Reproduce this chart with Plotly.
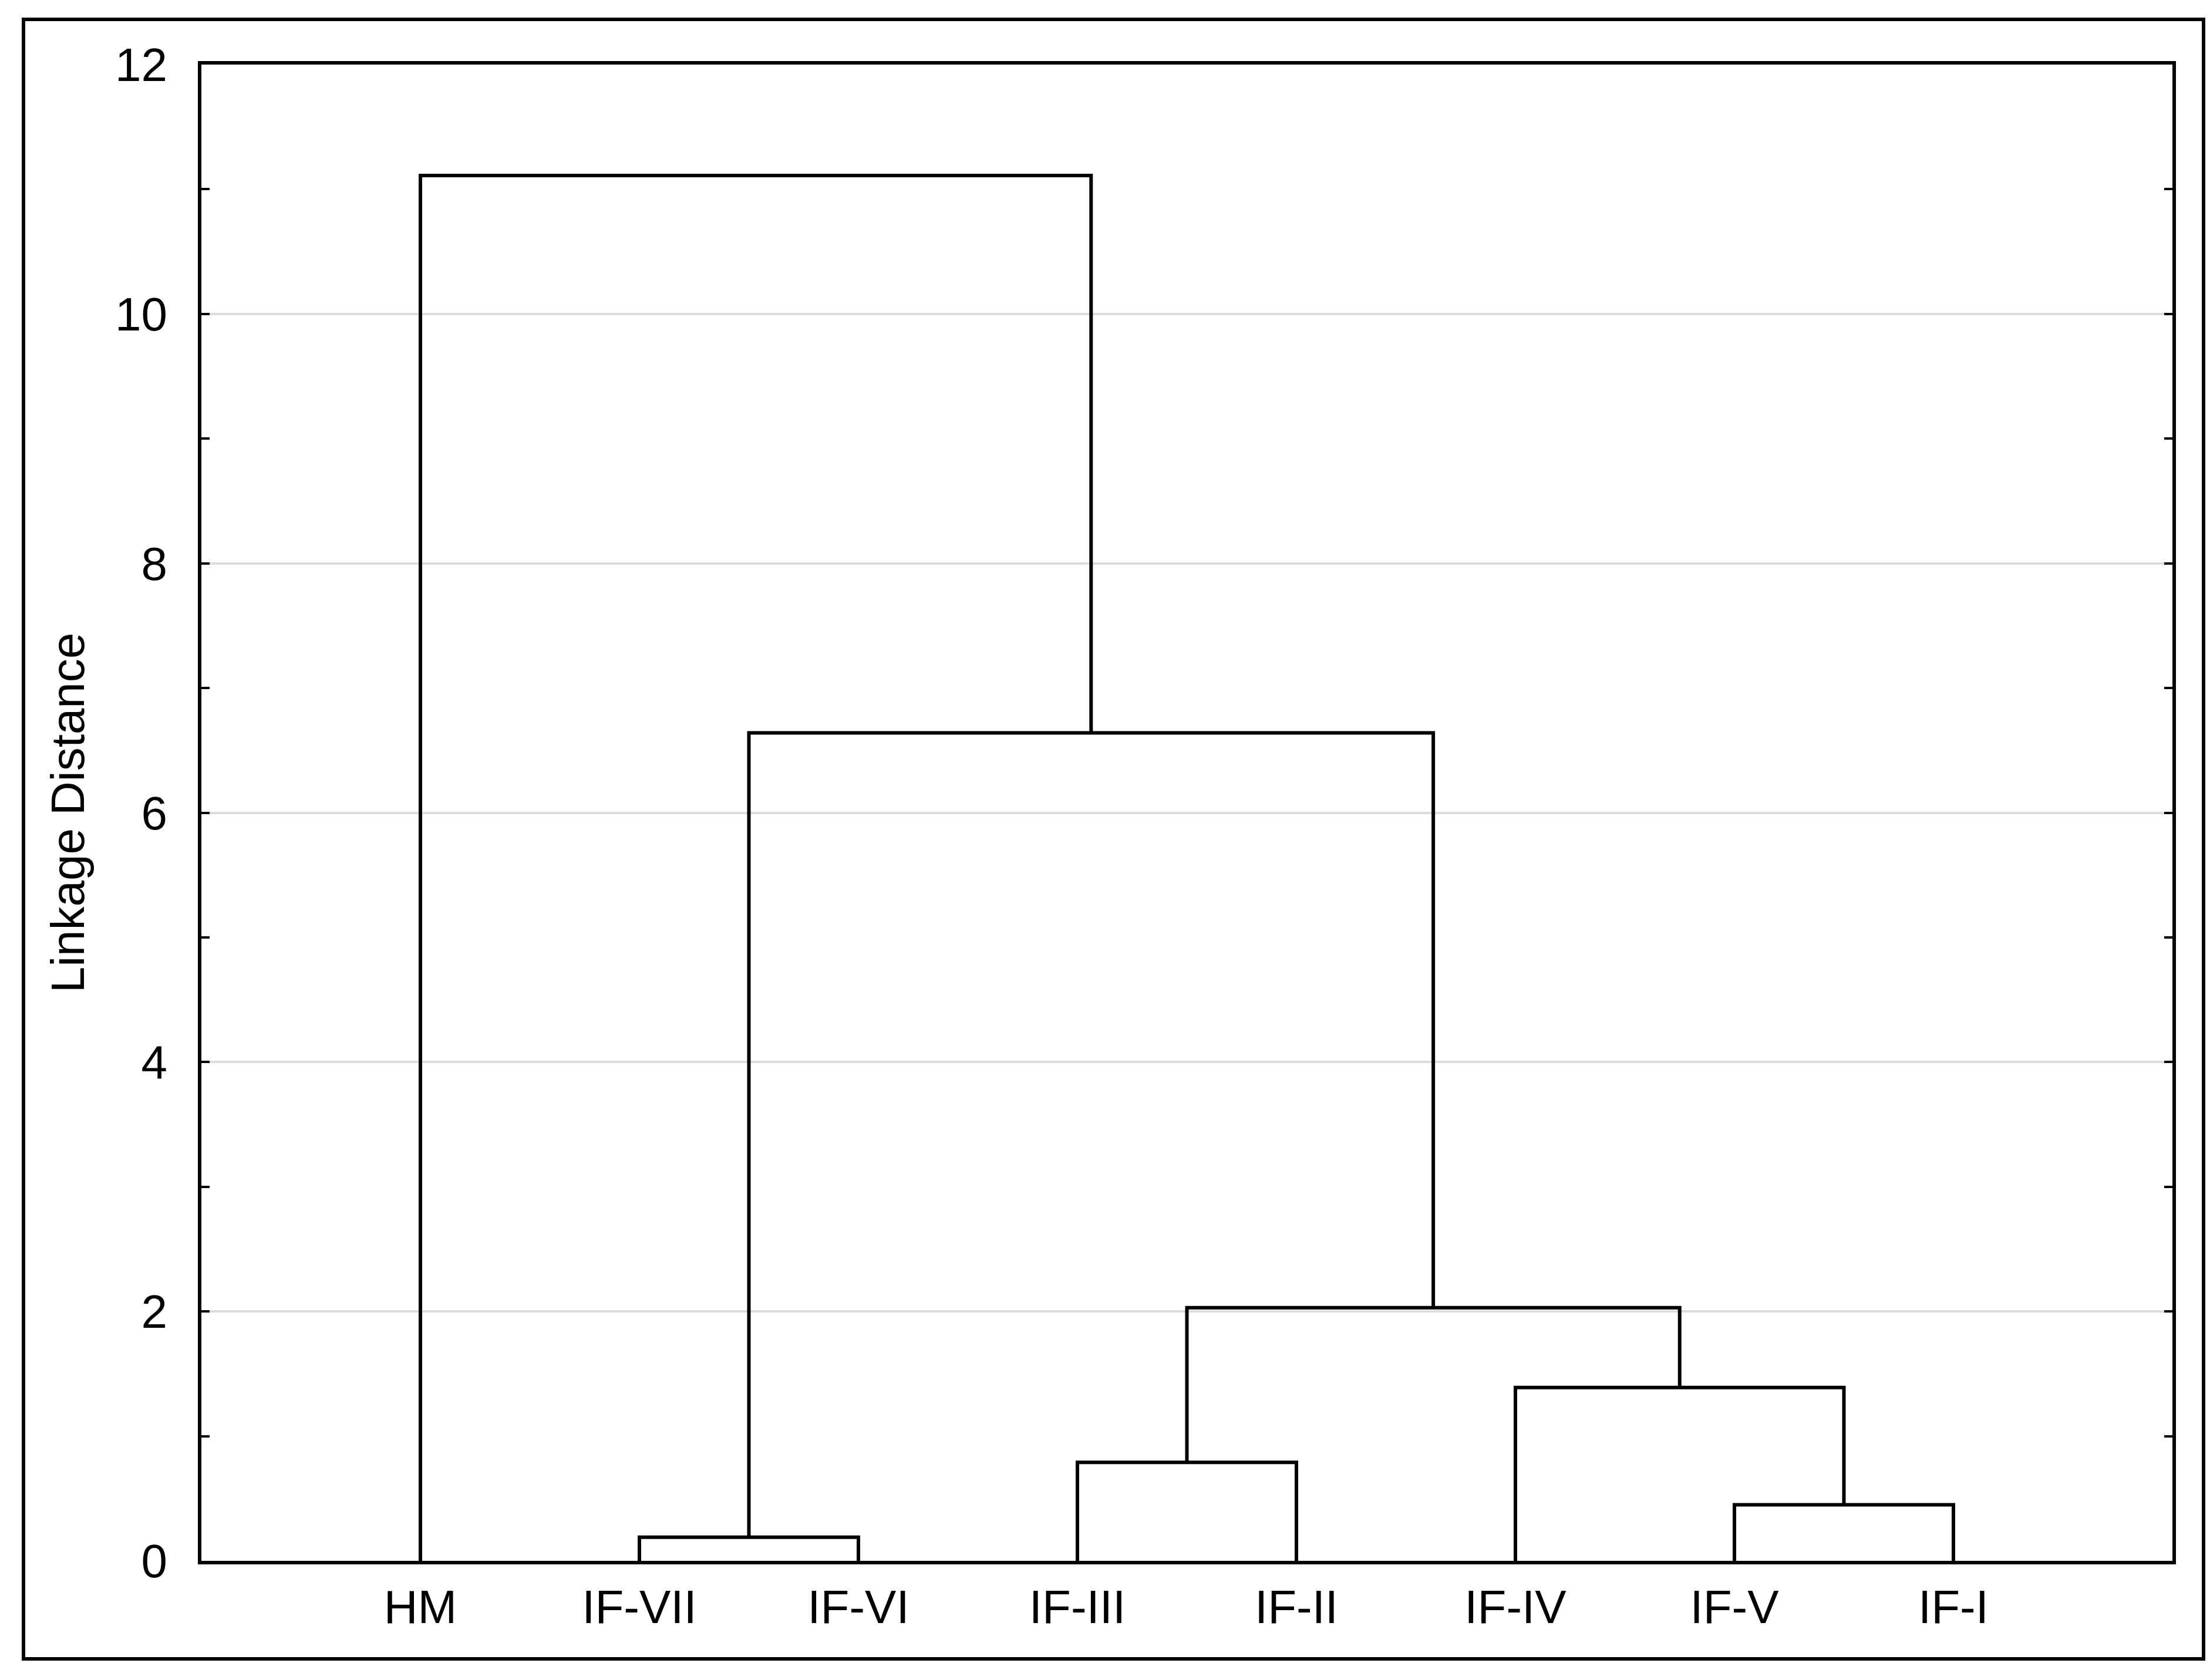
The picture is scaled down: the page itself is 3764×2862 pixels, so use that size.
import plotly.graph_objects as go

# leaves in dendrogram order (left to right)
leaf_labels = ["HM", "IF-VII", "IF-VI", "IF-III", "IF-II", "IF-IV", "IF-V", "IF-I"]

# merges: new cluster ids start at len(leaf_labels)
merge_left = [1, 6, 3, 5, 10, 8, 0]
merge_right = [2, 7, 4, 9, 11, 12, 13]
merge_height = [0.19, 0.45, 0.79, 1.39, 2.03, 6.64, 11.11]

y_ticks = [0, 2, 4, 6, 8, 10, 12]

# position / height of each node
node_x = {i: i + 1 for i in range(len(leaf_labels))}
node_h = {i: 0.0 for i in range(len(leaf_labels))}

xs, ys = [], []
for k, (a, b, h) in enumerate(zip(merge_left, merge_right, merge_height)):
    nid = len(leaf_labels) + k
    xa, xb = node_x[a], node_x[b]
    xs += [xa, xa, xb, xb, None]
    ys += [node_h[a], h, h, node_h[b], None]
    node_x[nid] = (xa + xb) / 2
    node_h[nid] = h

fig = go.Figure()
fig.add_trace(go.Scatter(
    x=xs, y=ys, mode="lines",
    line=dict(color="black", width=6),
    hoverinfo="skip", showlegend=False))

W, H = 3764, 2862
ml, mr, mt, mb = 335, 72, 102, 211

fig.update_layout(
    width=W, height=H,
    margin=dict(l=ml, r=mr, t=mt, b=mb),
    paper_bgcolor="white", plot_bgcolor="white",
    font=dict(family="Liberation Sans Narrow, Arial Narrow, Liberation Sans, Arial", size=80, color="black"),
    showlegend=False,
)

fig.update_xaxes(
    range=[0, 9],
    tickvals=list(range(1, len(leaf_labels) + 1)),
    ticktext=leaf_labels,
    ticks="",
    showgrid=False, zeroline=False,
    showline=True, linecolor="black", linewidth=6, mirror=True,
    ticklabelstandoff=4,
)

fig.update_yaxes(
    range=[0, 12],
    tickvals=y_ticks,
    ticks="inside", ticklen=14, tickwidth=4, tickcolor="black",
    minor=dict(dtick=1, ticks="inside", ticklen=14, tickwidth=4, tickcolor="black", showgrid=False),
    showgrid=True, gridcolor="#dcdcdc", gridwidth=4,
    zeroline=False,
    showline=True, linecolor="black", linewidth=6, mirror="ticks",
    ticklabelstandoff=36,
    title=dict(text="Linkage Distance", standoff=28,
               font=dict(family="Liberation Sans, Arial", size=80)),
)

# outer frame around the whole picture
pw, ph = W - ml - mr, H - mt - mb
fig.add_shape(
    type="rect", xref="paper", yref="paper",
    x0=(32 - ml) / pw, x1=(3745 - ml) / pw,
    y0=(H - mb - 2818) / ph, y1=(H - mb - 25) / ph,
    line=dict(color="black", width=6), fillcolor="rgba(0,0,0,0)",
)

fig.write_html("out.html")
